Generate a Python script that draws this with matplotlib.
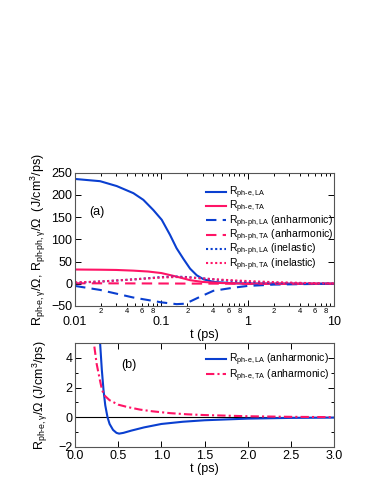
import numpy as np
import matplotlib
matplotlib.use("Agg")
import matplotlib.pyplot as plt
from matplotlib.ticker import LogLocator, FixedLocator, FuncFormatter, MultipleLocator

plt.rcParams['font.family'] = ['Liberation Sans', 'DejaVu Sans']
plt.rcParams['mathtext.fontset'] = 'custom'
plt.rcParams['mathtext.rm'] = 'Liberation Sans'
plt.rcParams['mathtext.it'] = 'Liberation Sans'

BLUE = '#0a3fd0'
PINK = '#ff1466'

# panel (a) data
t_eLA = [0.01, 0.0195, 0.0304, 0.0474, 0.0618, 0.0807, 0.101, 0.126, 0.150,
         0.180, 0.215, 0.257, 0.308, 0.401, 0.68, 1.0, 2.0, 10.0]
r_eLA = [236, 231, 220, 204, 189, 166, 144, 110, 80, 56, 34, 19, 10, 4, 1, 0.3, 0, 0]

t_eTA = [0.01, 0.02, 0.03, 0.047, 0.07, 0.1, 0.15, 0.215, 0.3, 0.5, 1.0, 10.0]
r_eTA = [32, 31.5, 31, 29.5, 27.5, 24, 16, 8, 4, 1.5, 0.3, 0]

t_aLA = [0.01, 0.0195, 0.047, 0.1, 0.15, 0.19, 0.27, 0.4, 0.68, 1.0, 2.0, 4.0, 10.0]
r_aLA = [-5, -14, -31, -42, -46, -45, -31, -16, -9, -5, -2, -1, 0]

t_aTA = [0.01, 0.03, 0.1, 0.3, 1.0, 10.0]
r_aTA = [1, 0.8, 0.5, 0.2, 0, 0]

t_iLA = [0.01, 0.02, 0.05, 0.1, 0.15, 0.2, 0.3, 0.5, 1.0, 2.0, 5.0, 10.0]
r_iLA = [2, 5, 10, 15, 16, 15, 12, 8, 4, 2, 0.5, 0]

t_iTA = [0.01, 0.02, 0.05, 0.1, 0.15, 0.2, 0.3, 0.5, 1.0, 2.0, 5.0, 10.0]
r_iTA = [3, 5, 10, 14, 15, 14, 12, 9, 6, 3.5, 1.5, 0.5]

# panel (b) data
tb_LA = [0.28, 0.29, 0.31, 0.33, 0.35, 0.376, 0.4, 0.44, 0.48, 0.51, 0.56, 0.65,
         0.8, 1.0, 1.25, 1.5, 2.0, 2.5, 3.0]
rb_LA = [7, 5, 3.2, 1.8, 0.8, 0, -0.45, -0.85, -1.05, -1.1, -1.05, -0.9,
         -0.68, -0.45, -0.3, -0.2, -0.09, -0.04, -0.02]

tb_TA = [0.2, 0.218, 0.25, 0.288, 0.31, 0.335, 0.4, 0.5, 0.6, 0.75, 0.9, 1.1,
         1.3, 1.5, 2.0, 2.5, 3.0]
rb_TA = [7, 5, 3.6, 2.5, 1.9, 1.5, 1.15, 0.85, 0.7, 0.52, 0.4, 0.28,
         0.2, 0.15, 0.07, 0.03, 0.01]

fig = plt.figure(figsize=(3.83, 4.95), dpi=100)
ax1 = fig.add_axes([0.196, 0.382, 0.676, 0.269])
ax2 = fig.add_axes([0.196, 0.097, 0.676, 0.210])

lw = 1.5
dash = (0, (5, 3))
dot = (0, (1, 1.2))
ax1.plot(t_eLA, r_eLA, color=BLUE, lw=lw, label=r'R$_{\rm ph\text{-}e,LA}$')
ax1.plot(t_eTA, r_eTA, color=PINK, lw=lw, label=r'R$_{\rm ph\text{-}e,TA}$')
ax1.plot(t_aLA, r_aLA, color=BLUE, lw=lw, ls=dash, label=r'R$_{\rm ph\text{-}ph,LA}$ (anharmonic)')
ax1.plot(t_aTA, r_aTA, color=PINK, lw=lw, ls=dash, label=r'R$_{\rm ph\text{-}ph,TA}$ (anharmonic)')
ax1.plot(t_iLA, r_iLA, color=BLUE, lw=lw, ls=dot, label=r'R$_{\rm ph\text{-}ph,LA}$ (inelastic)')
ax1.plot(t_iTA, r_iTA, color=PINK, lw=lw, ls=dot, label=r'R$_{\rm ph\text{-}ph,TA}$ (inelastic)')

ax1.set_xscale('log')
ax1.set_xlim(0.01, 10)
ax1.set_ylim(-50, 250)
ax1.yaxis.set_major_locator(MultipleLocator(50))
ax1.xaxis.set_major_locator(FixedLocator([0.01, 0.1, 1, 10]))
ax1.xaxis.set_major_formatter(FuncFormatter(lambda v, p: '%g' % v))
ax1.xaxis.set_minor_locator(LogLocator(base=10, subs=np.arange(2, 10)))


def minor_fmt(v, p):
    m = int(round(v / 10 ** np.floor(np.log10(v) + 1e-9)))
    return str(m) if m in (2, 4, 6, 8) else ''


ax1.xaxis.set_minor_formatter(FuncFormatter(minor_fmt))
ax1.tick_params(axis='x', which='major', labelsize=9, pad=7)
ax1.tick_params(axis='x', which='minor', labelsize=5.5, pad=1.5)
ax1.set_xlabel('t (ps)', fontsize=9, labelpad=1)
ax1.set_ylabel(r'R$_{\rm ph\text{-}e,\gamma}$/$\Omega$, R$_{\rm ph\text{-}ph,\gamma}$/$\Omega$  (J/cm$^3$/ps)',
               fontsize=9, labelpad=2)
ax1.text(0.055, 0.68, '(a)', transform=ax1.transAxes, fontsize=9)
ax1.legend(loc='upper left', bbox_to_anchor=(0.505, 0.91), frameon=False, fontsize=7.5,
           handlelength=1.9, handletextpad=0.35, labelspacing=-0.2,
           borderpad=0, borderaxespad=0)

ax2.axhline(0, color='black', lw=0.8)
ax2.plot(tb_LA, rb_LA, color=BLUE, lw=lw, label=r'R$_{\rm ph\text{-}e,LA}$ (anharmonic)')
ax2.plot(tb_TA, rb_TA, color=PINK, lw=lw, ls=(0, (4, 1.5, 1, 1.5)), label=r'R$_{\rm ph\text{-}e,TA}$ (anharmonic)')
ax2.set_xlim(0, 3)
ax2.set_ylim(-2, 5)
ax2.xaxis.set_major_locator(MultipleLocator(0.5))
ax2.yaxis.set_major_locator(MultipleLocator(2))
ax2.yaxis.set_minor_locator(MultipleLocator(1))
ax2.xaxis.set_major_formatter(FuncFormatter(lambda v, p: '%.1f' % v))
ax2.tick_params(axis='x', labelsize=9, pad=2)
ax2.set_xlabel('t (ps)', fontsize=9, labelpad=1)
ax2.set_ylabel(r'R$_{\rm ph\text{-}e,\gamma}$/$\Omega$ (J/cm$^3$/ps)', fontsize=9, labelpad=6)
ax2.text(0.18, 0.76, '(b)', transform=ax2.transAxes, fontsize=9)
ax2.legend(loc='upper left', bbox_to_anchor=(0.505, 0.915), frameon=False, fontsize=7.5,
           handlelength=1.9, handletextpad=0.35, labelspacing=-0.1,
           borderpad=0, borderaxespad=0)

for ax in (ax1, ax2):
    ax.tick_params(which='both', direction='in', top=True, right=True, width=0.7)
    ax.tick_params(which='major', length=4)
    ax.tick_params(which='minor', length=2)
    ax.tick_params(axis='y', labelsize=9, pad=2)
    for s in ax.spines.values():
        s.set_linewidth(0.8)
        s.set_color('#555555')

fig.savefig('out.png', dpi=100)
